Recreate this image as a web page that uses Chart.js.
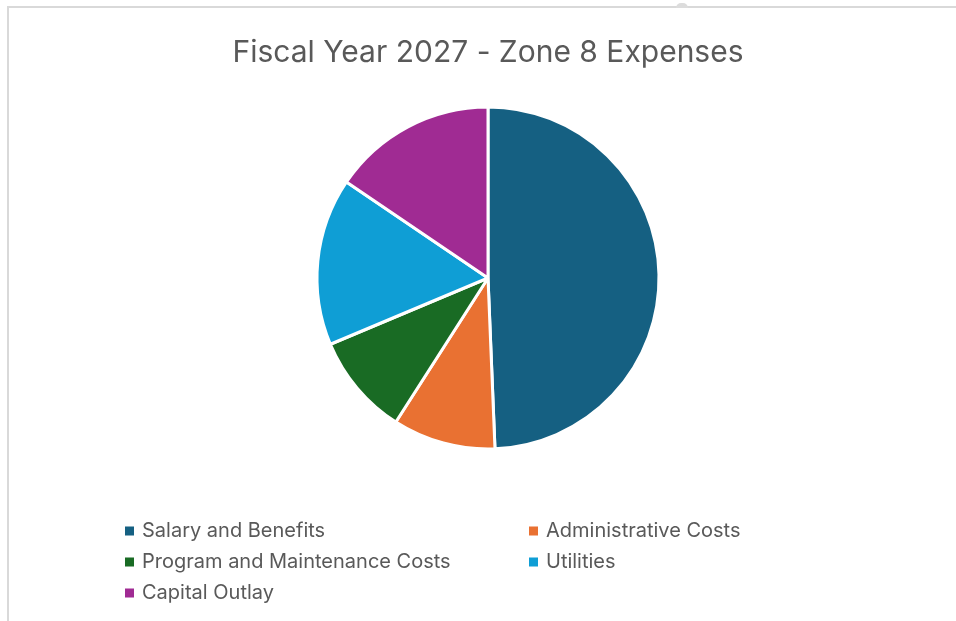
<!DOCTYPE html>
<html>
<head>
<meta charset="utf-8">
<title>Fiscal Year 2027 - Zone 8 Expenses</title>
<script src="https://cdn.jsdelivr.net/npm/chart.js@4/dist/chart.umd.min.js"></script>
<style>
  html, body { margin: 0; padding: 0; background: #fff; overflow: hidden; }
  #wrap { position: relative; width: 956px; height: 621px; }
  /* chart frame: only top and left edges are visible in the window */
  #frame {
    position: absolute; left: 7px; top: 6px; width: 1000px; height: 700px;
    border-left: 2px solid #d9d9d9; border-top: 2px solid #d9d9d9;
  }
  #handle {
    position: absolute; left: 676px; top: 3px; width: 12px; height: 5px;
    background: #dcdcdc; border-radius: 6px 6px 0 0;
  }
  #chart { position: absolute; left: 0; top: 0; }
</style>
</head>
<body>
<div id="wrap">
  <div id="frame"></div>
  <div id="handle"></div>
  <canvas id="chart" width="956" height="621"></canvas>
</div>
<script>
const categories = [
  'Salary and Benefits',
  'Administrative Costs',
  'Program and Maintenance Costs',
  'Utilities',
  'Capital Outlay',
];
// share of total spend, percent
const shares = [49.3, 9.7, 9.6, 15.8, 15.5];
const sliceColors = ['#156082', '#E97132', '#196B24', '#0F9ED5', '#A02B93'];

const TEXT = '#595959';

// two-column legend, filled row by row, left aligned
const gridLegend = {
  id: 'gridLegend',
  afterDraw(chart) {
    const ctx = chart.ctx;
    const ds = chart.data.datasets[0];
    const colX = [125, 529];
    const rowY = [531, 562, 593];
    ctx.save();
    ctx.font = '20px Inter, "Noto Sans", sans-serif';
    ctx.textBaseline = 'middle';
    chart.data.labels.forEach((label, i) => {
      const x = colX[i % 2];
      const y = rowY[Math.floor(i / 2)];
      ctx.fillStyle = ds.backgroundColor[i];
      ctx.fillRect(x, y - 4.5, 9, 9);
      ctx.fillStyle = TEXT;
      ctx.fillText(label, x + 17, y);
    });
    ctx.restore();
  }
};

new Chart(document.getElementById('chart'), {
  type: 'pie',
  data: {
    labels: categories,
    datasets: [{
      data: shares,
      backgroundColor: sliceColors,
      borderColor: '#ffffff',
      borderWidth: 3,
    }],
  },
  options: {
    responsive: false,
    animation: false,
    radius: 171,
    layout: { padding: { left: 20, right: 0, top: 0, bottom: 171 } },
    plugins: {
      legend: { display: false },
      tooltip: { enabled: false },
      title: {
        display: true,
        text: 'Fiscal Year 2027 - Zone 8 Expenses',
        color: TEXT,
        font: { family: 'Inter, "Noto Sans", sans-serif', size: 30, weight: 'normal', lineHeight: 1.2 },
        padding: { top: 35, bottom: 35 },
      },
    },
  },
  plugins: [gridLegend],
});
</script>
</body>
</html>
